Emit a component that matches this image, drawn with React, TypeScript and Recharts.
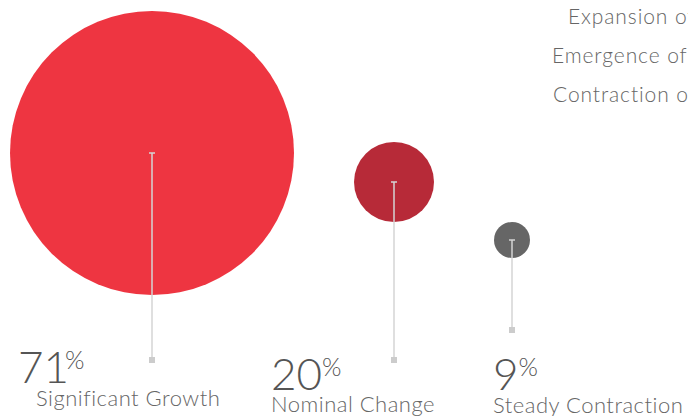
import { ScatterChart, Scatter, XAxis, YAxis } from 'recharts';

// data
const CATEGORIES = ['Significant Growth', 'Nominal Change', 'Steady Contraction'];
const SHARES = [71, 20, 9];
const COLORS = ['#EE3541', '#B72A38', '#666666'];
const LEGEND_ITEMS = ['Expansion of', 'Emergence of', 'Contraction of'];

// layout (pixels)
const W = 688;
const H = 416;
const PX_PER_PCT = 2; // bubble radius grows linearly with share
const FIRST_LEFT = 10;
const BUBBLE_GAP = 60;
const CENTER_Y = [153, 182, 240];
const STEM_END = [360, 360, 330];
const NUM_X = [18, 271, 493];
const NUM_Y = [383, 390, 390];
const PCT_GAP = [-4, 0, 0];
const NAME_X = [36, 271, 493];
const NAME_Y = [406, 412, 413];
const LEGEND_X = [568, 552, 553];

const FONT = 'Lato, "Open Sans", sans-serif';

// pack bubbles left to right, edge to edge with a fixed gap
const centersX: number[] = [];
SHARES.forEach((v, i) => {
  const r = v * PX_PER_PCT;
  if (i === 0) centersX.push(FIRST_LEFT + r);
  else centersX.push(centersX[i - 1] + SHARES[i - 1] * PX_PER_PCT + BUBBLE_GAP + r);
});

const points = CATEGORIES.map((name, i) => ({
  name,
  share: SHARES[i],
  x: centersX[i],
  y: CENTER_Y[i],
  idx: i,
}));

const Bubble = (props: any) => {
  const { cx, cy, payload } = props;
  const i = payload.idx;
  const r = payload.share * PX_PER_PCT;
  const end = STEM_END[i];
  return (
    <g>
      <circle cx={cx} cy={cy} r={r} fill={COLORS[i]} />
      <line x1={cx} y1={cy} x2={cx} y2={end} stroke="#d4d4d4" strokeWidth={1.5} />
      <line x1={cx - 3} y1={cy} x2={cx + 3} y2={cy} stroke="#d4d4d4" strokeWidth={1.5} />
      <rect x={cx - 3} y={end - 3} width={6} height={6} fill="#cccccc" />
      <text
        x={NUM_X[i]}
        y={NUM_Y[i]}
        fill="#555555"
        style={{ fontFamily: FONT, fontWeight: 300, fontSize: 44 }}
      >
        {payload.share}
        <tspan dx={PCT_GAP[i]} dy={-14} style={{ fontSize: 25 }}>%</tspan>
      </text>
      <text
        x={NAME_X[i]}
        y={NAME_Y[i]}
        fill="#666666"
        style={{ fontFamily: FONT, fontWeight: 300, fontSize: 22, letterSpacing: 0.5 }}
      >
        {payload.name}
      </text>
    </g>
  );
};

export default function App() {
  return (
    <div
      style={{
        position: 'absolute',
        left: 0,
        top: 0,
        width: W,
        height: H,
        overflow: 'hidden',
        background: '#ffffff',
      }}
    >
      <ScatterChart width={W} height={H} margin={{ top: 0, right: 0, bottom: 0, left: 0 }}>
        <XAxis type="number" dataKey="x" domain={[0, W]} hide />
        <YAxis type="number" dataKey="y" domain={[0, H]} reversed hide />
        <Scatter data={points} shape={Bubble} isAnimationActive={false} />
      </ScatterChart>
      {LEGEND_ITEMS.map((t, i) => (
        <div
          key={t}
          style={{
            position: 'absolute',
            left: LEGEND_X[i],
            top: 23 + i * 39 - 19,
            whiteSpace: 'nowrap',
            fontFamily: FONT,
            fontWeight: 300,
            fontSize: 21,
            letterSpacing: 0.9,
            lineHeight: '24px',
            color: '#666666',
          }}
        >
          {t}
        </div>
      ))}
    </div>
  );
}
